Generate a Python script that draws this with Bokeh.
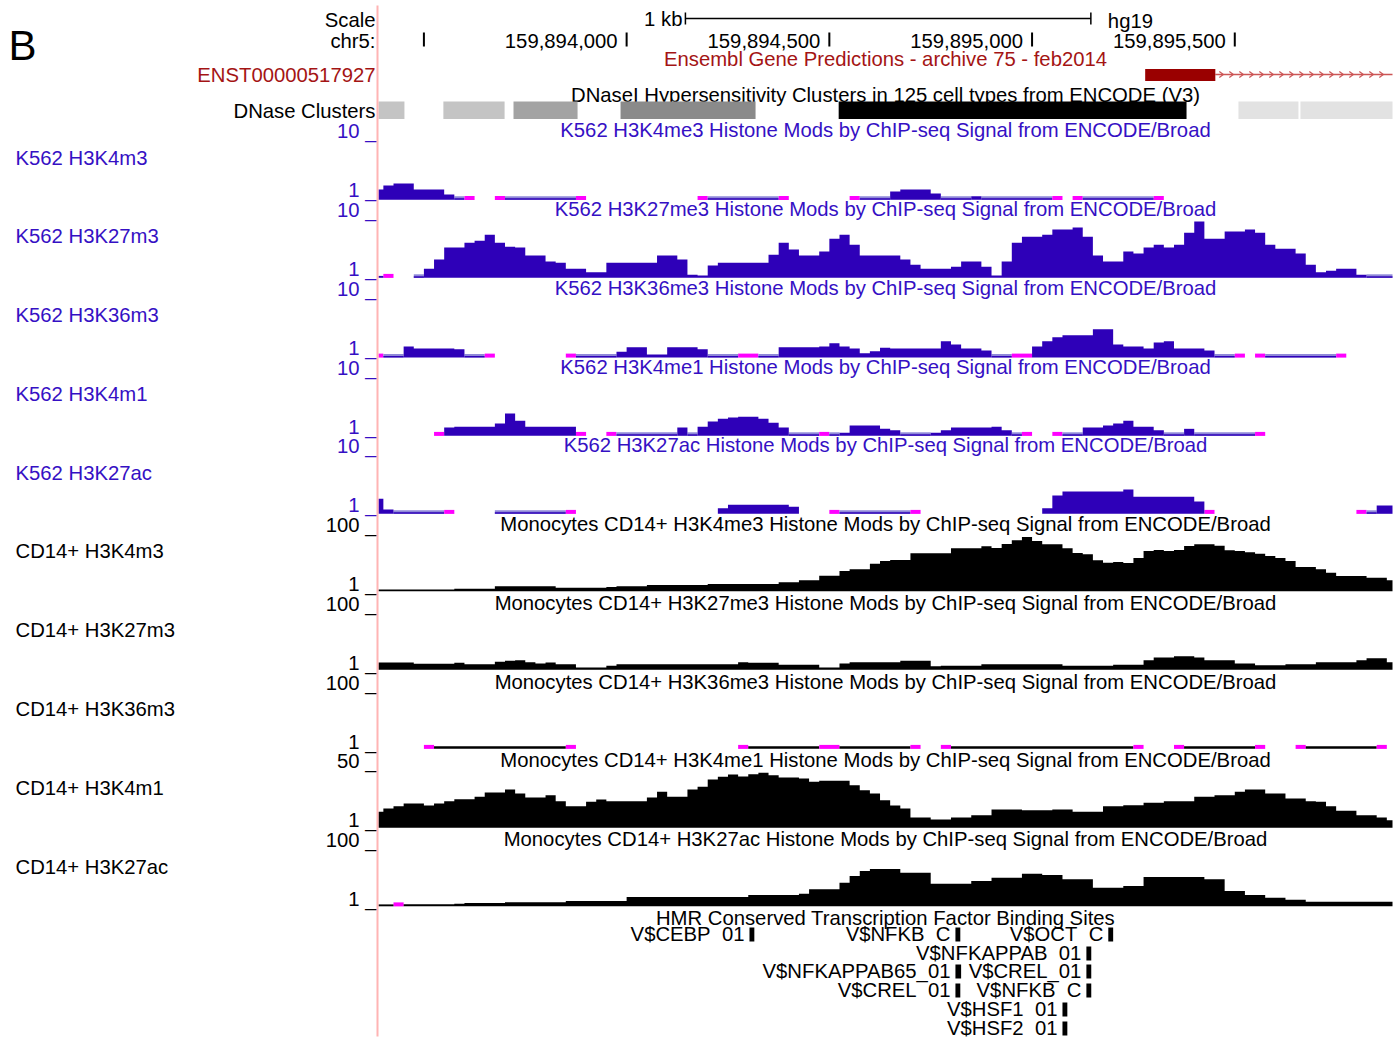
import numpy as np
from bokeh.plotting import figure
from bokeh.models import Range1d
from bokeh.embed import file_html
from bokeh.resources import INLINE
from bokeh.core.properties import value

# ---------------------------------------------------------------- data
CHROM = "chr5"
ASSEMBLY = "hg19"
WIN_START = 159893388
WIN_END = 159895889
BIN_START = 159893375
BIN_SIZE = 25

ruler_ticks = [159893500, 159894000, 159894500, 159895000, 159895500]
ruler_labels = ["", "159,894,000", "159,894,500", "159,895,000", "159,895,500"]
scale_bar_start = 159894145
scale_bar_len = 1000
scale_bar_label = "1 kb"

gene_track_title = "Ensembl Gene Predictions - archive 75 - feb2014"
gene_name = "ENST00000517927"
gene_thick_start = 159895279
gene_thick_end = 159895452
gene_tx_end = 159899000

dnase_title = "DNaseI Hypersensitivity Clusters in 125 cell types from ENCODE (V3)"
dnase_label = "DNase Clusters"
dnase_starts = [159893360, 159893548, 159893721, 159893985, 159894523, 159895509, 159895662]
dnase_ends = [159893452, 159893699, 159893879, 159894318, 159895381, 159895657, 159895950]
dnase_scores = [231, 231, 361, 459, 1000, 114, 114]

track_labels = ["K562 H3K4m3", "K562 H3K27m3", "K562 H3K36m3", "K562 H3K4m1", "K562 H3K27ac",
                "CD14+ H3K4m3", "CD14+ H3K27m3", "CD14+ H3K36m3", "CD14+ H3K4m1", "CD14+ H3K27ac"]
track_titles = [
    "K562 H3K4me3 Histone Mods by ChIP-seq Signal from ENCODE/Broad",
    "K562 H3K27me3 Histone Mods by ChIP-seq Signal from ENCODE/Broad",
    "K562 H3K36me3 Histone Mods by ChIP-seq Signal from ENCODE/Broad",
    "K562 H3K4me1 Histone Mods by ChIP-seq Signal from ENCODE/Broad",
    "K562 H3K27ac Histone Mods by ChIP-seq Signal from ENCODE/Broad",
    "Monocytes CD14+ H3K4me3 Histone Mods by ChIP-seq Signal from ENCODE/Broad",
    "Monocytes CD14+ H3K27me3 Histone Mods by ChIP-seq Signal from ENCODE/Broad",
    "Monocytes CD14+ H3K36me3 Histone Mods by ChIP-seq Signal from ENCODE/Broad",
    "Monocytes CD14+ H3K4me1 Histone Mods by ChIP-seq Signal from ENCODE/Broad",
    "Monocytes CD14+ H3K27ac Histone Mods by ChIP-seq Signal from ENCODE/Broad",
]
track_cell = ["K562"] * 5 + ["CD14"] * 5
track_vmin = [1, 1, 1, 1, 1, 1, 1, 1, 1, 1]
track_vmax = [10, 10, 10, 10, 10, 100, 100, 100, 50, 100]

# signal per 25-bp bin (None = no data)
k562_h3k4me3 = [
    2.5, 3.1, 3.4, 3.4, 2.5, 2.5, 2.5, 1.75, 1.0, 0.0,
    None, None, 0.0, 1.0, 1.0, 1.0, 1.0, 1.0, 1.0, 1.0,
    0.0, None, None, None, None, None, None, None, None, None,
    None, None, 0.0, 1.0, 1.0, 1.0, 1.0, 1.0, 1.0, 1.0,
    0.0, None, None, None, None, None, None, 0.0, 1.0, 1.0,
    1.0, 2.2, 2.5, 2.5, 2.5, 1.9, 1.0, 1.0, 1.0, 1.5,
    1.0, 1.0, 1.0, 1.0, 1.0, 1.0, 1.0, 0.0, None, 0.0,
    1.0, 1.0, 1.0, 1.0, 1.0, 1.0, 1.0, 0.0, None, None,
    None, None, None, None, None, None, None, None, None, None,
    None, None, None, None, None, None, None, None, None, None,
    None]
k562_h3k27me3 = [
    1.2, 0.0, None, None, 1.0, 2.3, 3.7, 5.5, 5.5, 6.2,
    6.5, 7.4, 6.2, 5.6, 5.5, 4.3, 4.3, 3.4, 3.2, 2.3,
    2.3, 1.8, 1.8, 3.2, 3.2, 3.2, 3.2, 3.2, 4.3, 4.3,
    3.7, 1.4, 1.3, 2.8, 3.2, 3.2, 3.2, 3.2, 3.2, 4.4,
    6.2, 5.2, 4.3, 4.3, 4.9, 6.8, 7.4, 5.9, 4.3, 4.3,
    4.3, 4.3, 3.7, 2.9, 2.3, 2.3, 2.3, 2.6, 3.4, 3.4,
    2.6, 1.3, 3.4, 6.2, 7.1, 7.1, 7.4, 8.2, 8.2, 8.5,
    7.1, 4.3, 3.4, 3.4, 4.9, 4.6, 5.5, 5.9, 5.5, 5.9,
    7.7, 9.4, 6.8, 6.8, 7.9, 7.9, 8.2, 7.7, 5.9, 5.3,
    5.3, 4.6, 2.9, 1.8, 2.0, 2.3, 2.3, 1.4, 1.0, 1.0,
    1.0]
k562_h3k36me3 = [
    0.0, 1.0, 1.0, 2.6, 2.3, 2.3, 2.3, 2.3, 2.2, 1.0,
    1.0, 0.0, None, None, None, None, None, None, None, 0.0,
    1.0, 1.0, 1.0, 1.0, 1.8, 2.5, 2.5, 1.4, 1.4, 2.5,
    2.5, 2.5, 2.2, 1.0, 1.0, 1.0, 0.0, 0.0, 1.0, 1.0,
    2.5, 2.5, 2.5, 2.5, 2.6, 3.1, 2.6, 2.3, 1.6, 1.9,
    2.4, 2.3, 2.3, 2.3, 2.3, 2.3, 3.4, 2.9, 2.3, 2.3,
    2.0, 1.0, 1.0, 0.0, 0.0, 2.6, 3.4, 4.0, 4.3, 4.3,
    4.3, 5.2, 5.2, 2.9, 2.6, 2.6, 2.3, 3.2, 3.4, 2.3,
    2.3, 2.3, 2.0, 1.0, 1.0, 0.0, None, 0.0, 1.0, 1.0,
    1.0, 1.0, 1.0, 1.0, 1.0, 0.0, None, None, None, None,
    None]
k562_h3k4me1 = [
    None, None, None, None, None, None, 0.0, 2.2, 2.3, 2.3,
    2.3, 2.3, 2.8, 4.3, 3.2, 2.3, 2.3, 2.3, 2.3, 2.3,
    0.0, None, None, 0.0, 1.0, 1.0, 1.0, 1.0, 1.0, 1.0,
    2.2, 1.0, 2.3, 3.1, 3.5, 3.7, 3.8, 3.8, 3.5, 2.9,
    2.2, 1.0, 1.0, 1.0, 0.0, 1.0, 1.4, 2.5, 2.5, 2.5,
    2.0, 1.8, 1.0, 1.0, 1.0, 1.4, 1.8, 2.2, 2.2, 2.2,
    2.2, 2.3, 1.8, 1.0, 0.0, None, None, 0.0, 1.0, 1.0,
    2.2, 2.2, 2.5, 2.8, 3.2, 2.3, 2.3, 1.8, 1.0, 1.0,
    2.0, 1.0, 1.0, 1.0, 1.0, 1.0, 1.0, 0.0, None, None,
    None, None, None, None, None, None, None, None, None, None,
    None]
k562_h3k27ac = [
    3.2, 1.6, 1.0, 1.0, 1.0, 1.0, 1.0, 0.0, None, None,
    None, None, 1.0, 1.0, 1.0, 1.0, 1.0, 1.0, 1.0, 0.0,
    None, None, None, None, None, None, None, None, None, None,
    None, None, None, None, 1.8, 2.3, 2.3, 2.3, 2.3, 2.3,
    2.3, 2.0, None, None, None, 0.0, 1.0, 1.0, 1.0, 1.0,
    1.0, 1.0, 1.0, 0.0, None, None, None, None, None, None,
    None, None, None, None, None, None, 1.8, 3.7, 4.3, 4.3,
    4.3, 4.3, 4.3, 4.3, 4.6, 3.5, 3.5, 3.5, 3.5, 3.5,
    3.5, 2.8, 0.0, None, None, None, None, None, None, None,
    None, None, None, None, None, None, None, 0.0, 1.0, 2.2,
    2.2]
cd14_h3k4me3 = [
    2.0, 2.0, 2.0, 2.0, 2.0, 2.0, 2.0, 2.0, 4.8, 4.8,
    4.8, 4.8, 8.8, 8.8, 8.8, 8.8, 8.8, 8.8, 6.4, 6.4,
    6.4, 6.4, 6.4, 7.6, 8.8, 8.8, 8.8, 10.9, 10.9, 10.9,
    10.9, 10.9, 10.9, 12.6, 12.6, 12.6, 12.6, 12.6, 12.6, 12.6,
    15.4, 15.4, 18.7, 18.7, 26.2, 26.2, 34.0, 36.8, 36.8, 46.0,
    50.5, 52.2, 52.2, 63.2, 63.2, 63.2, 63.2, 71.5, 71.5, 71.5,
    74.8, 72.0, 78.6, 84.7, 90.1, 83.5, 78.0, 78.0, 71.5, 63.7,
    61.6, 51.7, 47.7, 48.9, 47.2, 55.5, 67.0, 68.7, 67.0, 68.7,
    75.3, 78.0, 78.0, 75.7, 68.2, 67.0, 64.9, 62.5, 58.8, 55.5,
    50.5, 40.6, 40.6, 36.8, 31.2, 25.8, 25.8, 25.8, 23.0, 23.0,
    18.7]
cd14_h3k27me3 = [
    12.6, 12.6, 12.6, 12.6, 10.4, 10.4, 10.4, 10.4, 12.1, 9.7,
    9.7, 9.7, 13.7, 15.4, 16.3, 13.0, 10.9, 12.6, 9.7, 9.7,
    4.3, 4.3, 4.3, 7.1, 9.7, 9.7, 9.7, 9.7, 9.7, 9.7,
    9.7, 9.7, 9.7, 9.7, 9.7, 9.7, 13.0, 12.1, 12.1, 12.1,
    8.8, 8.8, 8.8, 8.8, 4.3, 4.3, 10.9, 13.0, 13.0, 13.0,
    13.0, 13.0, 15.4, 15.4, 15.4, 6.4, 7.1, 7.1, 7.1, 7.1,
    9.7, 9.7, 9.7, 9.7, 9.7, 9.7, 9.7, 9.7, 7.1, 7.1,
    7.1, 7.1, 7.1, 8.8, 8.8, 8.8, 16.3, 20.8, 20.8, 23.0,
    23.0, 20.8, 16.3, 16.3, 16.3, 10.9, 10.9, 8.1, 8.1, 8.1,
    9.7, 9.7, 9.7, 13.0, 13.0, 13.0, 13.0, 16.3, 19.6, 19.6,
    13.0]
cd14_h3k36me3 = [
    None, None, None, None, None, 0.0, 1.0, 1.0, 1.0, 1.0,
    1.0, 1.0, 1.0, 1.0, 1.0, 1.0, 1.0, 1.0, 1.0, 0.0,
    None, None, None, None, None, None, None, None, None, None,
    None, None, None, None, None, None, 0.0, 1.0, 1.0, 1.0,
    1.0, 1.0, 1.0, 1.0, 0.0, 0.0, 1.0, 1.0, 1.0, 1.0,
    1.0, 1.0, 1.0, 0.0, None, None, 0.0, 1.0, 1.0, 1.0,
    1.0, 1.0, 1.0, 1.0, 1.0, 1.0, 1.0, 1.0, 1.0, 1.0,
    1.0, 1.0, 1.0, 1.0, 1.0, 0.0, None, None, None, 0.0,
    1.0, 1.0, 1.0, 1.0, 1.0, 1.0, 1.0, 0.0, None, None,
    None, 0.0, 1.0, 1.0, 1.0, 1.0, 1.0, 1.0, 1.0, 0.0,
    None]
cd14_h3k4me1 = [
    13.8, 16.5, 18.4, 20.6, 20.6, 19.0, 20.6, 22.5, 24.1, 24.1,
    26.1, 29.6, 29.6, 32.0, 28.8, 25.5, 25.5, 27.4, 22.5, 18.4,
    18.4, 22.0, 23.9, 22.5, 22.5, 22.5, 22.5, 25.5, 30.2, 26.1,
    26.1, 32.0, 34.2, 40.2, 42.4, 44.3, 42.7, 44.5, 45.7, 43.7,
    41.8, 41.8, 41.0, 38.3, 39.1, 39.1, 39.1, 35.5, 31.5, 28.8,
    23.3, 19.0, 16.5, 9.2, 9.2, 7.5, 7.5, 9.2, 9.2, 11.0,
    11.0, 15.7, 15.7, 15.7, 15.1, 15.1, 15.1, 15.7, 15.7, 13.8,
    13.8, 13.8, 18.4, 18.4, 19.2, 19.2, 21.2, 21.2, 22.5, 22.5,
    22.5, 26.1, 26.1, 27.4, 27.4, 30.2, 32.0, 32.0, 28.8, 28.8,
    24.7, 24.7, 22.5, 22.0, 18.4, 14.6, 14.6, 11.0, 11.0, 9.2,
    7.0]
cd14_h3k27ac = [
    2.0, 2.0, 0.0, 3.8, 3.8, 3.8, 3.8, 3.8, 4.8, 6.0,
    6.0, 6.0, 6.0, 7.1, 7.1, 7.1, 7.1, 7.1, 7.1, 9.3,
    9.3, 9.3, 9.3, 9.3, 9.3, 15.9, 15.9, 15.9, 15.9, 15.9,
    15.9, 15.9, 15.9, 15.9, 15.9, 15.9, 15.9, 19.2, 19.2, 19.2,
    19.2, 19.2, 21.3, 28.6, 28.6, 28.6, 39.4, 50.5, 58.8, 62.0,
    62.0, 62.0, 56.0, 56.0, 56.0, 37.8, 37.8, 37.8, 37.8, 42.3,
    42.3, 47.7, 47.7, 47.7, 54.3, 54.3, 52.2, 52.2, 45.1, 45.1,
    45.1, 31.2, 31.2, 31.2, 34.0, 34.0, 48.9, 48.9, 48.9, 48.9,
    48.9, 48.9, 45.1, 45.1, 25.8, 25.8, 19.2, 19.2, 14.7, 14.7,
    11.4, 11.4, 8.1, 8.1, 8.1, 8.1, 8.1, 8.1, 8.1, 8.1,
    8.1]
track_values = [k562_h3k4me3, k562_h3k27me3, k562_h3k36me3, k562_h3k4me1, k562_h3k27ac,
                cd14_h3k4me3, cd14_h3k27me3, cd14_h3k36me3, cd14_h3k4me1, cd14_h3k27ac]

tfbs_title = "HMR Conserved Transcription Factor Binding Sites"
tfbs_names = ["V$CEBP\u00a0\u00a001", "V$NFKB\u00a0\u00a0C", "V$OCT\u00a0\u00a0C", "V$NFKAPPAB\u00a0\u00a001",
              "V$NFKAPPAB65_01", "V$CREL_01", "V$CREL\u00a0\u00a001", "V$NFKB\u00a0\u00a0C",
              "V$HSF1\u00a0\u00a001", "V$HSF2\u00a0\u00a001"]
tfbs_starts = [159894303, 159894811, 159895188, 159895134, 159894811,
               159895134, 159894811, 159895134, 159895075, 159895075]
tfbs_ends = [159894315, 159894823, 159895200, 159895146, 159894825,
             159895146, 159894823, 159895146, 159895087, 159895087]
tfbs_rows = [0, 0, 0, 1, 2, 2, 3, 3, 4, 5]

# ---------------------------------------------------------------- layout / style
W, H = 1397, 1041
DATA_L, DATA_R = 378, 1392
bpp = (WIN_END - WIN_START) / (DATA_R - DATA_L)
FONT = value("Liberation Sans")
FS = "20.3px"
PURPLE = "#2e00b8"
PURPLE_TXT = "#3510c4"
LIGHT_PURPLE = "#8f88d8"
MAGENTA = "#ff00ff"
DARKRED = "#9a0000"
GENE_TXT = "#a41414"
TRACK_H = 60

p = figure(width=W, height=H,
           x_range=Range1d(WIN_START - DATA_L * bpp, WIN_END + (W - DATA_R) * bpp),
           y_range=Range1d(H, 0),
           output_backend="svg", toolbar_location=None, min_border=0,
           x_axis_location=None, y_axis_location=None)
p.extra_x_ranges = {"px": Range1d(0, W)}
p.grid.visible = False
p.outline_line_color = None
p.background_fill_color = "white"
p.border_fill_color = "white"


def txt(x, y, s, color="black", align="left", size=FS, px=False, xoff=0):
    kw = dict(x=[x], y=[y - 1], text=[s], text_color=color, text_align=align,
              text_baseline="middle", text_font=FONT, text_font_size=size, x_offset=xoff)
    if px:
        kw["x_range_name"] = "px"
    p.text(**kw)


mid = (WIN_START + WIN_END) / 2

# panel letter
txt(8, 46, "B", size="42px", px=True)

# ruler
txt(375, 20, "Scale", align="right", px=True)
txt(375, 41, CHROM + ":", align="right", px=True)
sb0, sb1 = scale_bar_start, scale_bar_start + scale_bar_len
p.segment(x0=[sb0], y0=[18], x1=[sb1], y1=[18], line_color="black", line_width=1.5)
p.segment(x0=[sb0, sb1], y0=[12, 12], x1=[sb0, sb1], y1=[24, 24], line_color="black", line_width=1.5)
txt(sb0, 19, scale_bar_label, align="right", xoff=-3)
txt(sb1, 21, ASSEMBLY, align="left", xoff=17)
p.segment(x0=ruler_ticks, y0=[32] * len(ruler_ticks), x1=ruler_ticks, y1=[46] * len(ruler_ticks),
          line_color="black", line_width=2)
for t, lab in zip(ruler_ticks, ruler_labels):
    if lab:
        txt(t, 41, lab, align="right", xoff=-9)

# gene track
txt(mid, 59, gene_track_title, color=GENE_TXT, align="center")
txt(375, 75, gene_name, color=GENE_TXT, align="right", px=True)
p.segment(x0=[gene_thick_end], y0=[74], x1=[min(gene_tx_end, WIN_END)], y1=[74],
          line_color="#cc5555", line_width=1.3)
chev = np.arange(gene_thick_end + 6 * bpp, WIN_END - 2 * bpp, 10 * bpp)
cx0, cy0, cx1, cy1 = [], [], [], []
for c in chev:
    cx0 += [c - 2 * bpp, c - 2 * bpp]
    cy0 += [71, 77]
    cx1 += [c + 2 * bpp, c + 2 * bpp]
    cy1 += [74, 74]
p.segment(x0=cx0, y0=cy0, x1=cx1, y1=cy1, line_color="#cc5555", line_width=1.2)
p.quad(left=[gene_thick_start], right=[gene_thick_end], top=[68.5], bottom=[80.5],
       fill_color=DARKRED, line_color=None)

# DNase clusters
txt(mid, 95, dnase_title, align="center")
txt(375, 111, dnase_label, align="right", px=True)
dl = [max(s, WIN_START) for s in dnase_starts]
dr = [min(e, WIN_END) for e in dnase_ends]
dcol = []
for sc in dnase_scores:
    g = int(round(255 - sc * 255 / 1000))
    dcol.append("#%02x%02x%02x" % (g, g, g))
p.quad(left=dl, right=dr, top=[101] * len(dl), bottom=[118.5] * len(dl), fill_color=dcol, line_color=None)

# signal tracks
label_y = [131, 210, 289, 368, 446, 525, 604, 683, 761, 840]
baselines = [199, 277, 356.7, 435, 513, 590.5, 669, 748, 827, 905.5]
name_y = [158, 236, 315, 394, 473, 551, 630, 709, 788, 867]


def kind_of(v, vmin):
    if v is None:
        return "gap"
    if v < vmin:
        return "clip"
    if v == vmin:
        return "floor"
    return "bar"


for i, vals in enumerate(track_values):
    k562 = track_cell[i] == "K562"
    dark = PURPLE if k562 else "black"
    tcol = PURPLE_TXT if k562 else "black"
    base = baselines[i]
    vmin, vmax = track_vmin[i], track_vmax[i]

    txt(mid, label_y[i] - 1, track_titles[i], color=tcol, align="center")
    txt(376, label_y[i], "%d _" % vmax, color=tcol, align="right", px=True)
    txt(376, label_y[i] + 59, "%d _" % vmin, color=tcol, align="right", px=True)
    txt(15, name_y[i], track_labels[i], color=tcol, px=True)

    bar_xs, bar_ys = [], []
    n = len(vals)
    k = 0
    while k < n:
        kind = kind_of(vals[k], vmin)
        j = k
        while j + 1 < n and kind_of(vals[j + 1], vmin) == kind:
            j += 1
        left = max(BIN_START + k * BIN_SIZE, WIN_START)
        right = min(BIN_START + (j + 1) * BIN_SIZE, WIN_END)
        if kind == "clip":
            p.quad(left=[left], right=[right], top=[base - 3.6], bottom=[base + 0.4],
                   fill_color=MAGENTA, line_color=None)
        elif kind == "floor":
            if k562:
                p.quad(left=[left], right=[right], top=[base - 3.2], bottom=[base + 0.3],
                       fill_color=LIGHT_PURPLE, line_color=None)
                p.quad(left=[left], right=[right], top=[base - 1.2], bottom=[base + 0.3],
                       fill_color=PURPLE, line_color=None)
            else:
                p.quad(left=[left], right=[right], top=[base - 2.2], bottom=[base + 0.3],
                       fill_color="black", line_color=None)
        elif kind == "bar":
            xs, ys = [left], [base + 0.3]
            for m in range(k, j + 1):
                l = max(BIN_START + m * BIN_SIZE, WIN_START)
                r = min(BIN_START + (m + 1) * BIN_SIZE, WIN_END)
                hgt = max((vals[m] - vmin) / (vmax - vmin) * TRACK_H, 1.6)
                xs += [l, r]
                ys += [base - hgt, base - hgt]
            xs.append(right)
            ys.append(base + 0.3)
            bar_xs.append(xs)
            bar_ys.append(ys)
        k = j + 1
    if bar_xs:
        p.patches(xs=bar_xs, ys=bar_ys, fill_color=dark, line_color=None)

# TFBS track
txt(mid, 918, tfbs_title, align="center")
row_y = [934, 953, 971, 990, 1009, 1028]
ty = [row_y[r] for r in tfbs_rows]
p.quad(left=tfbs_starts, right=tfbs_ends, top=[y - 7 for y in ty], bottom=[y + 7 for y in ty],
       fill_color="black", line_color=None)
for nm, s, y in zip(tfbs_names, tfbs_starts, ty):
    txt(s, y, nm, align="right", xoff=-5)

# pink guideline
p.segment(x0=[377], y0=[5], x1=[377], y1=[1036], line_color="#ffb4b4", line_width=2, x_range_name="px")

open("out.html", "w").write(file_html(p, INLINE))
